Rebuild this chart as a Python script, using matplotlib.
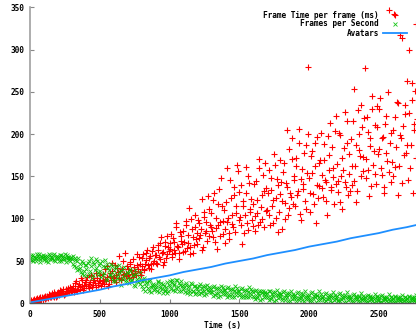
import matplotlib
matplotlib.use("Agg")
import matplotlib.pyplot as plt

# two interleaved sample grids (s)
time_a = list(range(0, 2780, 10))
time_b = list(range(5, 2780, 10))

frame_ms_a = [
    2, 4, 1, 5, 3, 6, 2, 7, 4, 6,
    7, 5, 9, 6, 10, 8, 12, 7, 11, 9,
    13, 10, 15, 12, 17, 11, 14, 18, 13, 16,
    15, 21, 17, 26, 14, 23, 19, 28, 16, 22,
    20, 31, 18, 25, 34, 22, 27, 19, 30, 24,
    26, 20, 35, 23, 29, 44, 21, 32, 27, 38,
    31, 45, 25, 37, 56, 29, 41, 33, 60, 36,
    40, 30, 47, 35, 52, 38, 33, 45, 55, 37,
    44, 58, 39, 51, 63, 42, 56, 47, 67, 50,
    57, 46, 69, 52, 78, 61, 49, 72, 58, 66,
    64, 82, 55, 73, 60, 90, 67, 52, 79, 70,
    85, 62, 97, 71, 113, 66, 88, 59, 104, 76,
    70, 95, 81, 123, 67, 102, 86, 74, 112, 93,
    107, 78, 131, 89, 64, 118, 96, 148, 82, 110,
    88, 160, 101, 76, 125, 94, 138, 84, 115, 157,
    132, 92, 70, 121, 104, 161, 87, 142, 112, 99,
    118, 85, 145, 107, 171, 96, 128, 152, 90, 136,
    110, 158, 93, 134, 122, 176, 101, 147, 84, 129,
    143, 88, 166, 119, 137, 104, 183, 126, 196, 150,
    115, 172, 133, 206, 98, 159, 141, 121, 187, 279,
    148, 108, 180, 129, 162, 95, 197, 139, 170, 152,
    126, 188, 144, 105, 175, 213, 137, 160, 118, 222,
    165, 132, 199, 150, 112, 184, 143, 216, 128, 176,
    194, 140, 253, 162, 120, 228, 181, 151, 208, 173,
    278, 148, 203, 127, 186, 230, 163, 211, 141, 233,
    182, 243, 152, 197, 131, 221, 168, 347, 189, 144,
    205, 342, 161, 238, 128, 317, 195, 314, 175, 224,
    263, 146, 299, 187, 261, 212, 251, 330,
]

frame_ms_b = [
    3, 1, 4, 2, 5, 3, 6, 5, 8, 4,
    9, 6, 8, 11, 7, 10, 9, 13, 8, 12,
    11, 16, 12, 14, 10, 17, 13, 15, 19, 14,
    18, 13, 24, 16, 20, 17, 30, 21, 18, 25,
    27, 21, 23, 32, 19, 28, 24, 36, 22, 26,
    33, 24, 28, 40, 26, 31, 23, 36, 48, 30,
    27, 34, 42, 30, 38, 28, 50, 35, 32, 44,
    34, 49, 39, 31, 43, 36, 58, 41, 46, 33,
    53, 41, 47, 60, 45, 54, 40, 62, 48, 57,
    48, 63, 55, 71, 59, 45, 68, 54, 80, 62,
    71, 58, 77, 63, 95, 68, 59, 84, 74, 61,
    73, 92, 65, 81, 58, 100, 78, 69, 90, 83,
    99, 77, 88, 63, 108, 83, 96, 127, 79, 90,
    85, 122, 73, 101, 92, 135, 80, 115, 97, 71,
    120, 96, 83, 146, 104, 90, 128, 107, 163, 99,
    102, 140, 115, 83, 130, 95, 150, 108, 123, 91,
    141, 103, 122, 93, 160, 114, 100, 133, 166, 109,
    131, 104, 148, 115, 95, 164, 124, 140, 108, 170,
    121, 155, 100, 142, 205, 113, 131, 171, 118, 146,
    162, 128, 190, 106, 147, 135, 178, 112, 154, 200,
    131, 174, 154, 118, 190, 140, 125, 166, 201, 136,
    170, 146, 121, 198, 158, 134, 185, 149, 204, 141,
    145, 201, 120, 172, 158, 226, 138, 190, 153, 133,
    162, 215, 145, 187, 133, 200, 174, 235, 156, 219,
    171, 220, 158, 196, 139, 245, 180, 153, 209, 176,
    230, 160, 195, 138, 212, 178, 250, 155, 201, 167,
    150, 220, 185, 237, 162, 199, 142, 210, 235, 178,
    187, 225, 160, 240, 130, 205, 172, 218,
]

fps_a = [
    52, 57, 50, 55, 53, 58, 54, 49, 56, 55,
    51, 56, 54, 49, 57, 55, 52, 58, 50, 56,
    55, 50, 57, 52, 54, 58, 49, 55, 51, 54,
    52, 47, 54, 43, 50, 40, 46, 35, 48, 38,
    45, 32, 50, 38, 53, 34, 47, 42, 50, 37,
    48, 31, 44, 36, 51, 27, 42, 35, 46, 30,
    39, 26, 44, 33, 37, 22, 41, 29, 35, 25,
    36, 24, 40, 28, 33, 21, 35, 26, 31, 23,
    26, 17, 30, 21, 25, 14, 27, 19, 23, 16,
    22, 14, 26, 18, 24, 12, 20, 16, 25, 15,
    26, 17, 28, 22, 15, 27, 19, 24, 14, 21,
    22, 13, 24, 16, 20, 11, 23, 15, 21, 12,
    19, 11, 23, 14, 20, 10, 17, 22, 13, 18,
    17, 9, 20, 12, 18, 8, 15, 21, 11, 16,
    16, 8, 19, 11, 17, 7, 14, 20, 10, 15,
    15, 7, 18, 10, 16, 8, 13, 19, 9, 14,
    13, 5, 16, 9, 14, 4, 12, 15, 7, 11,
    12, 4, 15, 8, 13, 3, 10, 16, 6, 11,
    11, 4, 14, 7, 12, 3, 10, 15, 5, 9,
    10, 3, 13, 6, 12, 4, 9, 14, 5, 8,
    10, 3, 13, 6, 11, 2, 9, 14, 4, 8,
    9, 2, 12, 5, 10, 3, 8, 13, 4, 7,
    9, 3, 12, 5, 10, 2, 7, 13, 4, 8,
    8, 2, 11, 5, 9, 3, 7, 12, 4, 6,
    7, 2, 10, 4, 9, 3, 6, 11, 3, 8,
    7, 2, 10, 4, 8, 3, 6, 11, 3, 7,
    6, 2, 9, 4, 8, 3, 5, 10, 3, 7,
    6, 2, 9, 4, 7, 3, 5, 10,
]

fps_b = [
    55, 51, 57, 53, 50, 56, 58, 52, 54, 57,
    54, 50, 56, 58, 52, 53, 57, 51, 55, 53,
    53, 57, 50, 56, 52, 54, 57, 53, 50, 55,
    56, 44, 51, 39, 53, 42, 37, 50, 33, 45,
    40, 48, 35, 44, 30, 49, 39, 52, 33, 45,
    38, 50, 33, 43, 29, 47, 39, 33, 44, 26,
    35, 42, 30, 45, 27, 38, 32, 43, 28, 37,
    30, 38, 27, 34, 22, 39, 29, 25, 37, 27,
    21, 28, 15, 24, 18, 26, 13, 22, 20, 17,
    19, 25, 13, 21, 17, 23, 15, 19, 12, 22,
    20, 25, 16, 23, 18, 28, 15, 22, 26, 17,
    18, 22, 12, 19, 15, 24, 14, 20, 11, 17,
    15, 21, 12, 18, 14, 20, 11, 16, 19, 13,
    13, 19, 10, 17, 12, 18, 9, 14, 19, 11,
    12, 18, 9, 16, 11, 17, 8, 13, 18, 10,
    11, 17, 8, 15, 10, 16, 7, 12, 17, 9,
    8, 15, 6, 12, 10, 14, 5, 11, 13, 8,
    7, 14, 5, 11, 9, 13, 4, 10, 12, 7,
    6, 13, 4, 10, 8, 12, 3, 9, 11, 6,
    6, 12, 4, 9, 7, 11, 3, 8, 10, 5,
    5, 12, 3, 9, 7, 10, 4, 8, 11, 6,
    5, 11, 3, 8, 6, 10, 2, 7, 10, 5,
    4, 11, 3, 8, 6, 10, 2, 7, 9, 5,
    4, 10, 2, 7, 5, 9, 3, 6, 9, 4,
    4, 9, 2, 7, 5, 8, 2, 6, 9, 4,
    4, 9, 2, 6, 5, 8, 2, 5, 8, 4,
    3, 8, 2, 6, 4, 8, 2, 5, 8, 4,
    3, 8, 2, 6, 4, 7, 2, 5,
]

avatar_time = [0, 100, 200, 300, 400, 500, 600, 700, 800, 900, 1000, 1100, 1200, 1300,
               1400, 1500, 1600, 1700, 1800, 1900, 2000, 2100, 2200, 2300, 2400, 2500,
               2600, 2700, 2780]
avatars = [1, 4, 7, 10, 13, 16, 20, 23, 27, 30, 33, 37, 40, 43, 47, 50, 53, 57, 60,
           63, 67, 70, 73, 77, 80, 83, 87, 90, 93]

x_ticks = [0, 500, 1000, 1500, 2000, 2500]
y_ticks = [0, 50, 100, 150, 200, 250, 300, 350]
series_names = ["Frame Time per frame (ms)", "Frames per Second", "Avatars"]

RED = "#ff0000"
GREEN = "#00c000"
BLUE = "#1e8fff"
FONT = dict(family="DejaVu Sans Mono", weight="bold", size=5.6)
RED_MK = dict(marker="+", color=RED, markersize=4.6, markeredgewidth=0.8, linestyle="none")
GREEN_MK = dict(marker="x", color=GREEN, markersize=3.4, markeredgewidth=0.6,
                linestyle="none", alpha=0.9)

W, H = 416, 332
fig = plt.figure(figsize=(W / 100, H / 100), dpi=100)
ax = fig.add_axes([30 / W, (H - 303.3) / H, (W - 30) / W, (303.3 - 7.3) / H])

ax.plot(time_a, frame_ms_a, **RED_MK)
ax.plot(time_b, frame_ms_b, **RED_MK)
ax.plot(time_a, fps_a, **GREEN_MK)
ax.plot(time_b, fps_b, **GREEN_MK)
ax.plot(avatar_time, avatars, color=BLUE, linewidth=1.3)

ax.set_xlim(0, 2767)
ax.set_ylim(0, 350)
ax.set_xticks(x_ticks)
ax.set_yticks(y_ticks)
ax.set_xticklabels([str(v) for v in x_ticks], **FONT)
ax.set_yticklabels([str(v) for v in y_ticks], **FONT)
ax.tick_params(direction="in", length=3, width=0.8, color="#888888", pad=4)
ax.tick_params(axis="x", pad=5)
for s in ("top", "right"):
    ax.spines[s].set_visible(False)
ax.spines["left"].set_color("#a0a0a0")
ax.spines["left"].set_linewidth(1.2)
ax.spines["bottom"].set_color("#555555")
ax.spines["bottom"].set_linewidth(1.0)
ax.set_xlabel("Time (s)", labelpad=1, **FONT)

# legend (gnuplot-like)
rows_y = [15, 24, 33]
tx = 379
for name, yy in zip(series_names, rows_y):
    fig.text(tx / W, 1 - yy / H, name, ha="right", va="center", **FONT)
fig.add_artist(plt.Line2D([395 / W], [1 - rows_y[0] / H], **RED_MK))
fig.add_artist(plt.Line2D([395 / W], [1 - rows_y[1] / H], **GREEN_MK))
fig.add_artist(plt.Line2D([383 / W, 407 / W], [1 - rows_y[2] / H] * 2, color=BLUE,
                          linewidth=1.3))

fig.savefig("out.png", dpi=100)
